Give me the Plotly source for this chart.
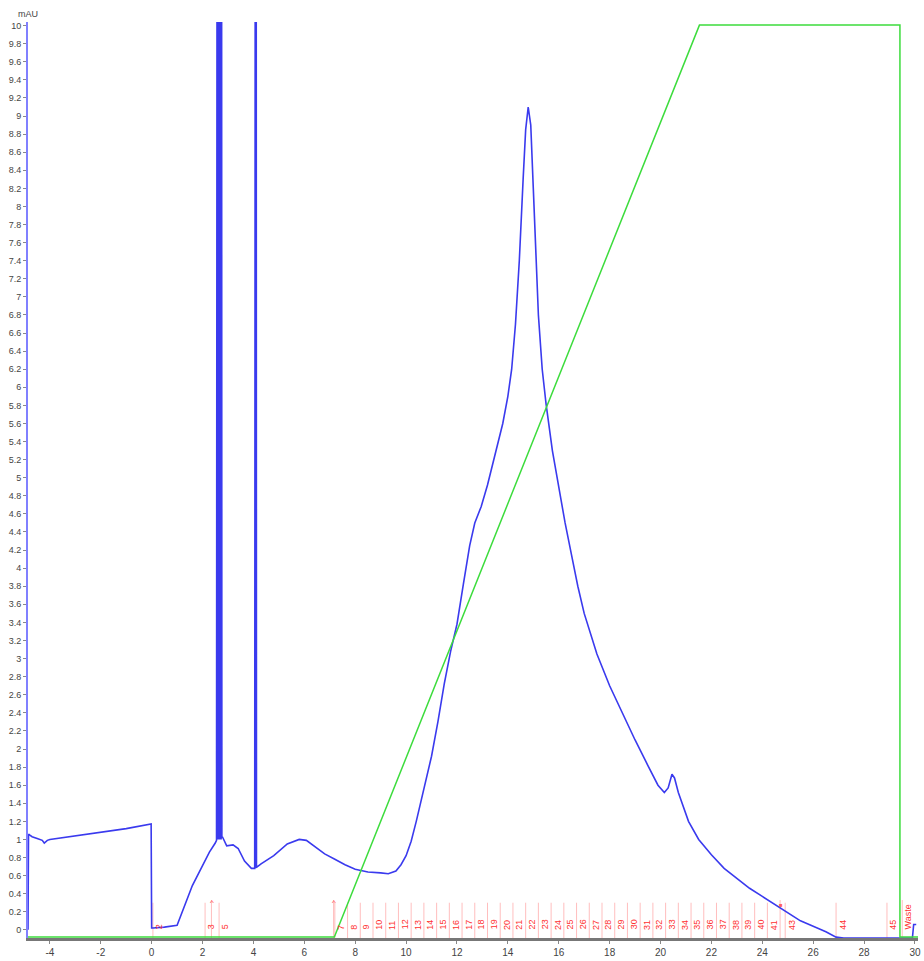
import plotly.graph_objects as go

# UV absorbance trace (min, mAU)
uv_time = [-4.86, -4.84, -4.8, -4.7, -4.5, -4.3, -4.22, -4.1, -4.0, -3.0, -2.0, -1.0, -0.02,
           0.0, 0.05, 0.5, 1.0, 1.3, 1.6, 2.0, 2.27, 2.5, 2.55,
           2.57, 2.58, 2.60, 2.61, 2.63, 2.64, 2.66, 2.67, 2.69, 2.70, 2.72, 2.73, 2.75, 2.76,
           2.78, 2.95, 3.2, 3.4, 3.65, 3.92, 4.05,
           4.07, 4.09, 4.11, 4.12,
           4.3, 4.8, 5.33, 5.8, 6.08, 6.4, 6.8, 7.2, 7.6, 8.0, 8.5, 9.0, 9.3, 9.6, 9.8,
           10.0, 10.2, 10.4, 10.7, 11.0, 11.25, 11.5, 11.75, 12.0, 12.25, 12.5, 12.7, 12.95,
           13.2, 13.5, 13.8, 14.0, 14.15, 14.3, 14.45, 14.6, 14.7, 14.8, 14.9, 15.0, 15.1, 15.2,
           15.35, 15.5, 15.75, 16.0, 16.25, 16.5, 16.75, 17.0, 17.5, 18.0, 18.5, 19.0, 19.5,
           19.9, 20.15, 20.3, 20.45, 20.55, 20.7, 20.9, 21.1, 21.5, 22.0, 22.5, 23.0, 23.5,
           24.0, 24.5, 25.0, 25.5, 26.0, 26.5, 26.9, 27.2, 29.9, 29.95, 30.05]
uv_mau = [0.0, 1.06, 1.05, 1.03, 1.01, 0.99, 0.96, 0.99, 1.0, 1.04, 1.08, 1.12, 1.17,
          0.02, 0.02, 0.03, 0.05, 0.27, 0.49, 0.71, 0.86, 0.96, 0.99,
          11, 1.0, 11, 1.0, 11, 1.0, 11, 1.0, 11, 1.0, 11, 1.0, 11, 1.02,
          1.03, 0.93, 0.94, 0.9, 0.76, 0.68, 0.68,
          11, 0.68, 11, 0.69,
          0.73, 0.82, 0.95, 1.0, 0.99, 0.92, 0.84, 0.78, 0.72, 0.67, 0.64, 0.63, 0.62, 0.65, 0.72,
          0.82, 0.98, 1.2, 1.55, 1.92, 2.3, 2.72, 3.08, 3.38, 3.82, 4.25, 4.5, 4.68,
          4.92, 5.25, 5.6, 5.9, 6.2, 6.7, 7.4, 8.3, 8.85, 9.1, 8.9, 8.2, 7.4, 6.8,
          6.2, 5.82, 5.3, 4.9, 4.5, 4.15, 3.8, 3.5, 3.05, 2.7, 2.4, 2.1, 1.82,
          1.6, 1.52, 1.57, 1.72, 1.68, 1.52, 1.35, 1.2, 1.0, 0.83, 0.68, 0.57, 0.46,
          0.37, 0.28, 0.19, 0.1, 0.04, -0.02, -0.08, -0.09, -0.09, 0.06, 0.06]

# Gradient (% B)
grad_time = [-4.86, 7.18, 21.53, 29.41, 29.41, 30.2]
grad_pct = [0, 0, 100, 100, 0, 0]

# Fractions: label, start time, elevated marker
frac_labels = ["2", "3", "4", "5", "6"] + [str(i) for i in range(7, 43)] + ["43", "44", "45", "Waste"]
frac_start = [0.05, 2.1, 2.35, 2.65, 7.15] + [7.2 + (i - 7) * 0.5 for i in range(7, 43)] + [24.9, 26.9, 28.9, 29.5]
frac_raised = ["4", "6", "42", "Waste"]

# x tick labels
x_ticks = [-4, -2, 0, 2, 4, 6, 8, 10, 12, 14, 16, 18, 20, 22, 24, 26, 28, 30]
x_tick_text = [str(v) for v in x_ticks]

fig = go.Figure()

# fraction lines
fx, fy = [], []
for lab, s in zip(frac_labels, frac_start):
    top = 0.3 if lab not in frac_raised else 0.33
    fx += [s, s, None]
    fy += [-0.09, top, None]
fig.add_trace(go.Scatter(x=fx, y=fy, mode="lines",
                         line=dict(color="rgba(255,110,110,0.45)", width=1),
                         hoverinfo="skip", showlegend=False))

fig.add_trace(go.Scatter(x=grad_time, y=grad_pct, yaxis="y2", mode="lines",
                         line=dict(color="#3ddc3d", width=1.5), showlegend=False))

fig.add_trace(go.Scatter(x=uv_time, y=uv_mau, mode="lines",
                         line=dict(color="#3a3aee", width=1.6), showlegend=False))

annotations = []
for lab, s in zip(frac_labels, frac_start):
    if lab in ("4", "6"):
        annotations.append(dict(x=s + 0.03, y=0.3, xref="x", yref="y", text="^",
                                showarrow=False, font=dict(size=8, color="#ff4040"),
                                xanchor="center", yanchor="middle"))
        continue
    if lab == "42":
        annotations.append(dict(x=s + 0.05, y=0.27, xref="x", yref="y", text="■",
                                showarrow=False, font=dict(size=6, color="#ff6060"),
                                xanchor="center", yanchor="middle"))
        continue
    annotations.append(dict(x=s + 0.24, y=-0.02, xref="x", yref="y", text=lab, textangle=-90,
                            showarrow=False, font=dict(size=9, color="#ff3030",
                                                       family="Liberation Sans"),
                            xanchor="center", yanchor="bottom"))

annotations.append(dict(x=0, y=1, xref="paper", yref="paper", text="mAU", showarrow=False,
                        xanchor="center", yanchor="bottom", yshift=1,
                        font=dict(size=9, color="#444", family="Liberation Sans")))

fig.update_layout(
    width=924, height=961,
    margin=dict(l=28, r=3, t=22, b=22),
    paper_bgcolor="white", plot_bgcolor="white",
    font=dict(family="Liberation Sans", size=9, color="#444"),
    annotations=annotations,
    xaxis=dict(range=[-4.86, 30.12], tickmode="array", tickvals=x_ticks, ticktext=x_tick_text,
               showgrid=False, zeroline=False, showline=True, linecolor="#777", linewidth=3,
               ticks="outside", ticklen=3, tickcolor="#888", layer="below traces",
               tickfont=dict(size=10, color="#444")),
    yaxis=dict(range=[-0.09, 10.04], tickmode="linear", tick0=0, dtick=0.2,
               showgrid=False, zeroline=False, showline=True, linecolor="#8080ff", linewidth=2,
               ticks="outside", ticklen=3, tickcolor="#888",
               tickfont=dict(size=9, color="#444")),
    yaxis2=dict(range=[-0.1, 100.34], overlaying="y", side="right", visible=False),
)

fig.write_html("out.html")
